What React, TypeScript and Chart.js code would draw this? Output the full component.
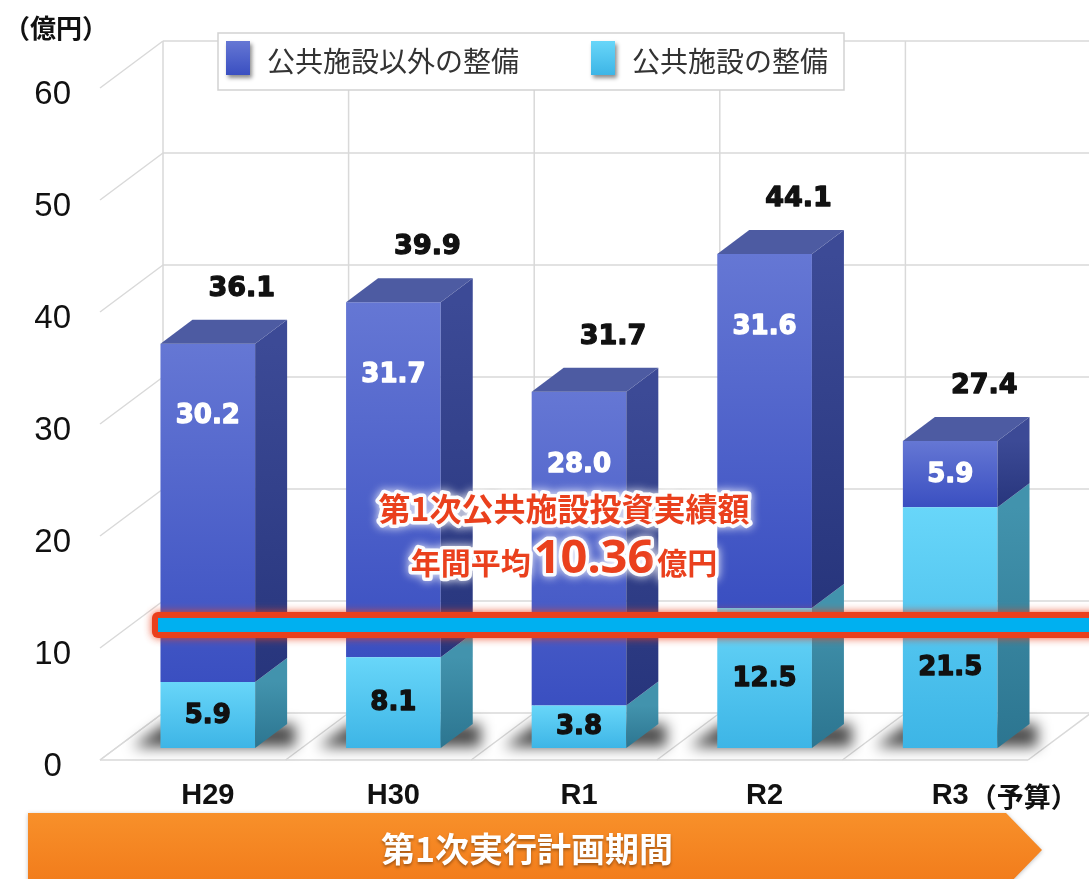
import React, { useEffect, useRef } from 'react';
import { Chart, registerables } from 'chart.js';

Chart.register(...registerables);

// ---- data ----
const CATEGORIES = ['H29', 'H30', 'R1', 'R2', 'R3'];
const CATEGORY_NOTES = ['', '', '', '', '（予算）'];
const PUBLIC_WORKS = [5.9, 8.1, 3.8, 12.5, 21.5];
const OTHER_WORKS = [30.2, 31.7, 28.0, 31.6, 5.9];
const TOTALS = [36.1, 39.9, 31.7, 44.1, 27.4];
const Y_TICKS = [0, 10, 20, 30, 40, 50, 60];
const AVERAGE = 10.36;
const LABEL_OTHER = '公共施設以外の整備';
const LABEL_PUBLIC = '公共施設の整備';
const UNIT = '（億円）';
const AVG_TITLE = '第1次公共施設投資実績額';
const AVG_PREFIX = '年間平均';
const AVG_UNIT = '億円';
const PERIOD = '第1次実行計画期間';

// ---- style ----
const JP = '"Noto Sans CJK JP", "Noto Sans CJK SC", sans-serif';
const NUM = '"DejaVu Sans", sans-serif';
const SANS = '"Liberation Sans", Arial, sans-serif';
const BAR_DX = 32;
const BAR_DY = -24;
const WALL_DX = 48;
const FLOOR_DX = -15;
const BACK_DY = -35;
const FRONT_DY = 12;
const FRONT = [
  ['#68d6f9', '#3db5e6'],
  ['#6577d4', '#3a4fc1'],
];
const SIDE = [
  ['#4293ad', '#2c7590'],
  ['#3c4a96', '#27357c'],
];
const TOP_FACE = ['#7fd8ef', '#4d5ba2'];
const RED = '#ea401d';

function frontFill(d: number) {
  return (c: any) => {
    const chart = c.chart;
    const ys = chart.scales && chart.scales.y;
    if (!ys || c.dataIndex === undefined || !chart.chartArea) return FRONT[d][1];
    const i = c.dataIndex;
    let baseV = 0;
    for (let k = 0; k < d; k++) baseV += chart.data.datasets[k].data[i];
    const topV = baseV + chart.data.datasets[d].data[i];
    const g = chart.ctx.createLinearGradient(0, ys.getPixelForValue(topV), 0, ys.getPixelForValue(baseV));
    g.addColorStop(0, FRONT[d][0]);
    g.addColorStop(1, FRONT[d][1]);
    return g;
  };
}

function line(ctx: CanvasRenderingContext2D, x1: number, y1: number, x2: number, y2: number) {
  ctx.beginPath();
  ctx.moveTo(x1, y1);
  ctx.lineTo(x2, y2);
  ctx.stroke();
}

function heavyText(ctx: CanvasRenderingContext2D, t: string, x: number, y: number, color: string) {
  ctx.fillStyle = color;
  ctx.strokeStyle = color;
  ctx.lineWidth = 1.3;
  ctx.lineJoin = 'round';
  ctx.strokeText(t, x, y);
  ctx.fillText(t, x, y);
}

function haloText(ctx: CanvasRenderingContext2D, t: string, x: number, y: number) {
  ctx.save();
  ctx.shadowColor = 'rgba(255,255,255,1)';
  ctx.shadowBlur = 10;
  ctx.strokeStyle = 'rgba(255,255,255,0.95)';
  ctx.lineWidth = 7;
  ctx.lineJoin = 'round';
  ctx.strokeText(t, x, y);
  ctx.restore();
  ctx.fillText(t, x, y);
}

const scenePlugin = {
  id: 'scene3d',
  beforeDatasetsDraw(chart: any) {
    const { ctx, chartArea, width } = chart;
    const ys = chart.scales.y;
    const L = chartArea.left;
    const R = chartArea.right;
    const n = CATEGORIES.length;
    const step = (R - L) / n;
    const y0 = ys.getPixelForValue(0);
    const yTop = ys.getPixelForValue(Y_TICKS[Y_TICKS.length - 1]);
    ctx.save();
    ctx.strokeStyle = '#d9d9d9';
    ctx.lineWidth = 1.5;
    for (const t of Y_TICKS) {
      const yp = ys.getPixelForValue(t);
      line(ctx, L + WALL_DX, yp + BACK_DY, width, yp + BACK_DY);
      line(ctx, L + FLOOR_DX, yp + FRONT_DY, L + WALL_DX, yp + BACK_DY);
    }
    for (let k = 0; k <= n; k++) {
      const b = L + k * step;
      line(ctx, b + WALL_DX, yTop + BACK_DY, b + WALL_DX, y0 + BACK_DY);
      line(ctx, b + FLOOR_DX, y0 + FRONT_DY, b + WALL_DX, y0 + BACK_DY);
    }
    line(ctx, L + FLOOR_DX, y0 + FRONT_DY, R + FLOOR_DX, y0 + FRONT_DY);

    // floor shadows
    ctx.filter = 'blur(7px)';
    ctx.fillStyle = 'rgba(0,0,0,0.7)';
    chart.getDatasetMeta(0).data.forEach((el: any) => {
      const p = el.getProps(['x', 'base', 'width'], true);
      const l = p.x - p.width / 2;
      const r = p.x + p.width / 2;
      const b = p.base;
      ctx.beginPath();
      ctx.moveTo(l - 28, b - 1);
      ctx.lineTo(r + BAR_DX + 8, b - 1);
      ctx.lineTo(r + BAR_DX + 8, b + BAR_DY);
      ctx.lineTo(l + BAR_DX - 28, b + BAR_DY);
      ctx.closePath();
      ctx.fill();
    });
    ctx.restore();
  },
  afterDatasetsDraw(chart: any) {
    const { ctx, chartArea, width } = chart;
    const ys = chart.scales.y;
    const xs = chart.scales.x;
    const nd = chart.data.datasets.length;
    ctx.save();
    // sides and tops
    for (let d = 0; d < nd; d++) {
      chart.getDatasetMeta(d).data.forEach((el: any) => {
        const p = el.getProps(['x', 'y', 'base', 'width'], true);
        const l = p.x - p.width / 2;
        const r = p.x + p.width / 2;
        const g = ctx.createLinearGradient(0, p.y, 0, p.base);
        g.addColorStop(0, SIDE[d][0]);
        g.addColorStop(1, SIDE[d][1]);
        ctx.fillStyle = g;
        ctx.beginPath();
        ctx.moveTo(r, p.y);
        ctx.lineTo(r + BAR_DX, p.y + BAR_DY);
        ctx.lineTo(r + BAR_DX, p.base + BAR_DY);
        ctx.lineTo(r, p.base);
        ctx.closePath();
        ctx.fill();
        if (d === nd - 1) {
          ctx.fillStyle = TOP_FACE[d];
          ctx.beginPath();
          ctx.moveTo(l, p.y);
          ctx.lineTo(r, p.y);
          ctx.lineTo(r + BAR_DX, p.y + BAR_DY);
          ctx.lineTo(l + BAR_DX, p.y + BAR_DY);
          ctx.closePath();
          ctx.fill();
        }
      });
    }

    const avgY = ys.getPixelForValue(AVERAGE) - 7;

    // value labels
    ctx.textAlign = 'center';
    ctx.textBaseline = 'middle';
    chart.getDatasetMeta(0).data.forEach((el: any, i: number) => {
      const p = el.getProps(['x', 'y', 'base'], true);
      let cy = (p.y + p.base) / 2;
      if (Math.abs(cy - avgY) < 32) cy = avgY + 42;
      ctx.font = `bold 26px ${NUM}`;
      heavyText(ctx, PUBLIC_WORKS[i].toFixed(1), p.x, cy + 1, '#111');
    });
    chart.getDatasetMeta(1).data.forEach((el: any, i: number) => {
      const p = el.getProps(['x', 'y', 'base'], true);
      const cy = Math.min((p.y + p.base) / 2, p.y + 72);
      ctx.font = `bold 26px ${NUM}`;
      heavyText(ctx, OTHER_WORKS[i].toFixed(1), p.x, cy + 1, '#fff');
      ctx.font = `bold 27px ${NUM}`;
      heavyText(ctx, TOTALS[i].toFixed(1), p.x + 34, p.y - 55, '#111');
    });

    // average line
    const lx = chartArea.left + 37;
    ctx.save();
    ctx.shadowColor = 'rgba(234,64,29,0.9)';
    ctx.shadowBlur = 8;
    ctx.fillStyle = RED;
    ctx.beginPath();
    ctx.roundRect(lx, avgY - 13, width - lx + 30, 26, 6);
    ctx.fill();
    ctx.restore();
    ctx.fillStyle = '#00b0f0';
    ctx.fillRect(lx + 6, avgY - 7, width, 14);

    // average annotation
    const cx = xs.getPixelForValue(2) - 15;
    ctx.fillStyle = RED;
    ctx.textAlign = 'center';
    ctx.textBaseline = 'middle';
    ctx.font = `bold 32px ${JP}`;
    haloText(ctx, AVG_TITLE, cx, avgY - 116);
    const fPre = `bold 30px ${JP}`;
    const fNum = `bold 47px "Noto Sans", ${NUM}`;
    const numText = AVERAGE.toFixed(2);
    ctx.font = fPre;
    const w1 = ctx.measureText(AVG_PREFIX).width;
    const w3 = ctx.measureText(AVG_UNIT).width;
    ctx.font = fNum;
    const w2 = ctx.measureText(numText).width;
    const gap = 3;
    let sx = cx - (w1 + w2 + w3 + gap * 2) / 2;
    const ly = avgY - 64;
    ctx.textAlign = 'left';
    ctx.font = fPre;
    haloText(ctx, AVG_PREFIX, sx, ly + 2);
    sx += w1 + gap;
    ctx.font = fNum;
    haloText(ctx, numText, sx, ly - 1);
    sx += w2 + gap;
    ctx.font = fPre;
    haloText(ctx, AVG_UNIT, sx, ly + 2);
    ctx.restore();
  },
  afterDraw(chart: any) {
    const { ctx } = chart;
    const xs = chart.scales.x;
    ctx.save();

    // unit
    ctx.fillStyle = '#111';
    ctx.font = `bold 26px ${JP}`;
    ctx.textAlign = 'left';
    ctx.textBaseline = 'middle';
    ctx.fillText(UNIT, 4, 28);

    // legend
    ctx.fillStyle = '#fff';
    ctx.fillRect(218, 33, 626, 57);
    ctx.strokeStyle = '#d2d2d2';
    ctx.lineWidth = 1.5;
    ctx.strokeRect(218, 33, 626, 57);
    const items = [
      { text: LABEL_OTHER, c: FRONT[1], x: 226 },
      { text: LABEL_PUBLIC, c: FRONT[0], x: 591 },
    ];
    for (const it of items) {
      ctx.save();
      ctx.shadowColor = 'rgba(0,0,0,0.45)';
      ctx.shadowBlur = 4;
      ctx.shadowOffsetX = 2;
      ctx.shadowOffsetY = 3;
      const g = ctx.createLinearGradient(0, 41, 0, 75);
      g.addColorStop(0, it.c[0]);
      g.addColorStop(1, it.c[1]);
      ctx.fillStyle = g;
      ctx.fillRect(it.x, 41, 24, 34);
      ctx.restore();
      ctx.fillStyle = '#333';
      ctx.font = `28px ${JP}`;
      ctx.fillText(it.text, it.x + 41, 61);
    }

    // category labels
    ctx.fillStyle = '#111';
    ctx.textBaseline = 'middle';
    CATEGORIES.forEach((c, i) => {
      const x = xs.getPixelForValue(i);
      ctx.font = `bold 29px ${SANS}`;
      ctx.textAlign = 'center';
      ctx.fillText(c, x, 796);
      if (CATEGORY_NOTES[i]) {
        const mw = ctx.measureText(c).width;
        ctx.font = `bold 27px ${JP}`;
        ctx.textAlign = 'left';
        ctx.fillText(CATEGORY_NOTES[i], x + mw / 2 + 1, 797);
      }
    });

    // period banner
    ctx.save();
    ctx.shadowColor = 'rgba(0,0,0,0.25)';
    ctx.shadowBlur = 4;
    ctx.shadowOffsetY = 1;
    const bg = ctx.createLinearGradient(0, 813, 0, 879);
    bg.addColorStop(0, '#f8902a');
    bg.addColorStop(1, '#f27d1c');
    ctx.fillStyle = bg;
    ctx.beginPath();
    ctx.moveTo(28, 813);
    ctx.lineTo(1006, 813);
    ctx.lineTo(1042, 850);
    ctx.lineTo(1006, 887);
    ctx.lineTo(28, 887);
    ctx.closePath();
    ctx.fill();
    ctx.restore();
    ctx.save();
    ctx.shadowColor = 'rgba(0,0,0,0.35)';
    ctx.shadowBlur = 3;
    ctx.shadowOffsetY = 2;
    ctx.fillStyle = '#fff';
    ctx.font = `bold 34px ${JP}`;
    ctx.textAlign = 'center';
    ctx.textBaseline = 'middle';
    ctx.fillText(PERIOD, 527, 849);
    ctx.restore();

    ctx.restore();
  },
};

export default function App() {
  const ref = useRef<HTMLCanvasElement>(null);
  useEffect(() => {
    const canvas = ref.current;
    if (!canvas) return;
    const chart = new Chart(canvas, {
      type: 'bar',
      data: {
        labels: CATEGORIES,
        datasets: [
          { label: LABEL_PUBLIC, data: PUBLIC_WORKS, backgroundColor: frontFill(0) as any, borderWidth: 0 },
          { label: LABEL_OTHER, data: OTHER_WORKS, backgroundColor: frontFill(1) as any, borderWidth: 0 },
        ],
      },
      options: {
        responsive: false,
        animation: false,
        layout: { padding: { left: 0, top: 76, right: 46, bottom: 131 } },
        datasets: { bar: { categoryPercentage: 1, barPercentage: 0.51 } },
        scales: {
          x: { stacked: true, display: false },
          y: {
            stacked: true,
            min: 0,
            max: 60,
            afterFit: (s: any) => {
              s.width = 115;
            },
            afterBuildTicks: (s: any) => {
              s.ticks = Y_TICKS.map((v) => ({ value: v }));
            },
            grid: { display: false },
            border: { display: false },
            ticks: {
              color: '#111',
              font: { family: SANS, size: 33 },
              crossAlign: 'center',
              padding: 36,
              labelOffset: 19,
            },
          },
        },
        plugins: { legend: { display: false }, tooltip: { enabled: false } },
      },
      plugins: [scenePlugin],
    });
    return () => chart.destroy();
  }, []);
  return (
    <div style={{ position: 'absolute', left: 0, top: 0, width: 1089, height: 879, background: '#fff' }}>
      <canvas ref={ref} width={1089} height={879} style={{ display: 'block' }} />
    </div>
  );
}
